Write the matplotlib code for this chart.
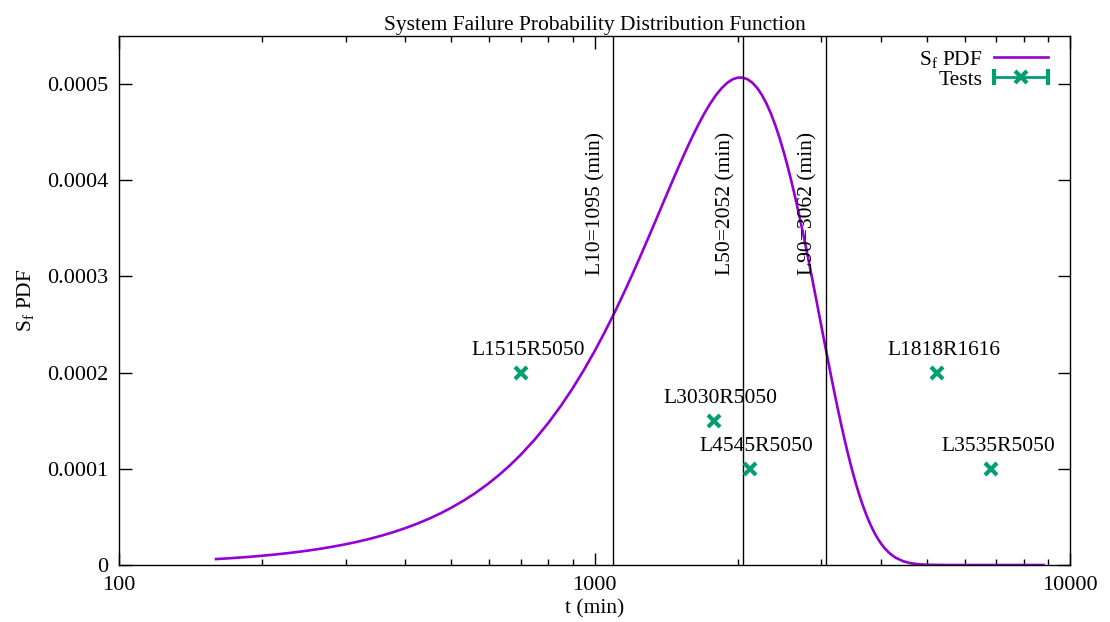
import matplotlib
matplotlib.use("Agg")
import matplotlib.pyplot as plt
from matplotlib.legend_handler import HandlerErrorbar
import numpy as np

plt.rcParams['font.family'] = ['Liberation Serif', 'DejaVu Serif']
plt.rcParams['mathtext.fontset'] = 'custom'
plt.rcParams['mathtext.rm'] = 'Liberation Serif'
plt.rcParams['mathtext.it'] = 'Liberation Serif:italic'
plt.rcParams['font.size'] = 15.5

# curve (t in min, pdf)
t_curve = [160, 170, 180, 190, 200, 212, 225, 237, 250, 265, 280, 297, 315, 335,
           355, 377, 400, 425, 450, 475, 500, 530, 560, 595, 630, 665, 700, 750,
           800, 850, 900, 950, 1000, 1050, 1100, 1150, 1200, 1250, 1300, 1350,
           1400, 1450, 1500, 1550, 1600, 1650, 1700, 1750, 1800, 1850, 1900, 1950,
           2000, 2050, 2100, 2150, 2200, 2250, 2300, 2350, 2400, 2450, 2500, 2550,
           2600, 2650, 2700, 2750, 2800, 2850, 2900, 2950, 3000, 3050, 3100, 3150,
           3200, 3250, 3300, 3350, 3400, 3450, 3500, 3550, 3600, 3650, 3700, 3750,
           3800, 3850, 3900, 3950, 4000, 4075, 4150, 4225, 4300, 4450, 4600, 4800,
           5000, 5500, 6000, 7000, 8000, 8800]
pdf_curve = [6.16e-6, 6.95e-6, 7.79e-6, 8.68e-6, 9.62e-6, 1.081e-5, 1.217e-5,
             1.351e-5, 1.502e-5, 1.688e-5, 1.884e-5, 2.119e-5, 2.382e-5, 2.693e-5,
             3.022e-5, 3.406e-5, 3.831e-5, 4.321e-5, 4.838e-5, 5.384e-5, 5.957e-5,
             6.681e-5, 7.442e-5, 8.378e-5, 9.363e-5, 1.0396e-4, 1.1474e-4, 1.3088e-4,
             1.4784e-4, 1.6554e-4, 1.8388e-4, 2.0278e-4, 2.2213e-4, 2.4182e-4,
             2.6173e-4, 2.8174e-4, 3.0172e-4, 3.2153e-4, 3.4102e-4, 3.6007e-4,
             3.7853e-4, 3.9624e-4, 4.1308e-4, 4.2889e-4, 4.4360e-4, 4.5699e-4,
             4.6901e-4, 4.7951e-4, 4.8843e-4, 4.9566e-4, 5.0114e-4, 5.0486e-4,
             5.0672e-4, 5.0675e-4, 5.0491e-4, 5.0126e-4, 4.9580e-4, 4.8858e-4,
             4.7969e-4, 4.6926e-4, 4.5732e-4, 4.4400e-4, 4.2944e-4, 4.1380e-4,
             3.9719e-4, 3.7977e-4, 3.6170e-4, 3.4314e-4, 3.2420e-4, 3.0516e-4,
             2.8604e-4, 2.6712e-4, 2.4827e-4, 2.2990e-4, 2.1194e-4, 1.9454e-4,
             1.7785e-4, 1.6189e-4, 1.4670e-4, 1.3238e-4, 1.1881e-4, 1.0625e-4,
             9.458e-5, 8.378e-5, 7.386e-5, 6.484e-5, 5.664e-5, 4.925e-5,
             4.258e-5, 3.666e-5, 3.140e-5, 2.676e-5, 2.268e-5, 1.755e-5,
             1.341e-5, 1.013e-5, 7.55e-6, 4.05e-6, 2.07e-6, 7.8e-7,
             2.7e-7, 1e-8, 0.0, 0.0, 0.0, 0.0]

# life markers
life_names = ['L10', 'L50', 'L90']
life_vals = [1095, 2052, 3062]

# test points
test_t = [700, 1780, 2120, 5250, 6820]
test_pdf = [0.0002, 0.00015, 0.0001, 0.0002, 0.0001]
test_names = ['L1515R5050', 'L3030R5050', 'L4545R5050', 'L1818R1616', 'L3535R5050']

purple = '#9400d3'
green = '#009e73'

fig = plt.figure(figsize=(11.1, 6.22), dpi=100)
ax = fig.add_axes([119 / 1110, 1 - 565 / 622, (1070 - 119) / 1110, (565 - 36) / 622])

ax.plot(t_curve, pdf_curve, color=purple, lw=1.9, label='S$_{\\mathrm{f}}$ PDF')

for name, v in zip(life_names, life_vals):
    ax.axvline(v, color='black', lw=1.0)
    ax.annotate('%s=%d (min)' % (name, v), xy=(v, 0.0003), xytext=(-5.5, 1),
                textcoords='offset points', rotation=90, ha='right', va='bottom')

ax.plot(test_t, test_pdf, 'x', color=green, ms=9, mew=3, ls='none')
eb = ax.errorbar([np.nan], [np.nan], xerr=[1], fmt='x', color=green, ms=9, mew=3,
                 capsize=6, elinewidth=2, capthick=2, label='Tests')
for name, tx, ty in zip(test_names, test_t, test_pdf):
    ax.annotate(name, xy=(tx, ty), xytext=(5, 9), textcoords='offset points',
                ha='center', va='bottom')

ax.set_xscale('log')
ax.set_xlim(100, 10000)
ax.set_ylim(0, 0.00055)
ax.set_xticks([100, 1000, 10000])
ax.set_xticklabels(['100', '1000', '10000'])
ax.set_yticks([0, 0.0001, 0.0002, 0.0003, 0.0004, 0.0005])
ax.set_yticklabels(['0', '0.0001', '0.0002', '0.0003', '0.0004', '0.0005'])
ax.tick_params(which='both', direction='in', top=True, right=True, labelsize=16)
ax.tick_params(which='major', length=9, width=1, pad=8)
ax.tick_params(which='minor', length=4.5, width=1)
ax.tick_params(axis='y', which='minor', left=False, right=False)
for s in ax.spines.values():
    s.set_linewidth(1.0)

ax.set_title('System Failure Probability Distribution Function', fontsize=15.5, pad=4)
ax.set_xlabel('t (min)', labelpad=3)
ax.set_ylabel('S$_{\\mathrm{f}}$ PDF', labelpad=8)

ax.legend(loc='upper right', bbox_to_anchor=(0.99, 1.0), frameon=False,
          markerfirst=False, handlelength=2.5, handletextpad=0.5,
          labelspacing=0.0, borderaxespad=0.2,
          handler_map={eb: HandlerErrorbar(xerr_size=1.25)})

fig.savefig('out.png', dpi=100)
